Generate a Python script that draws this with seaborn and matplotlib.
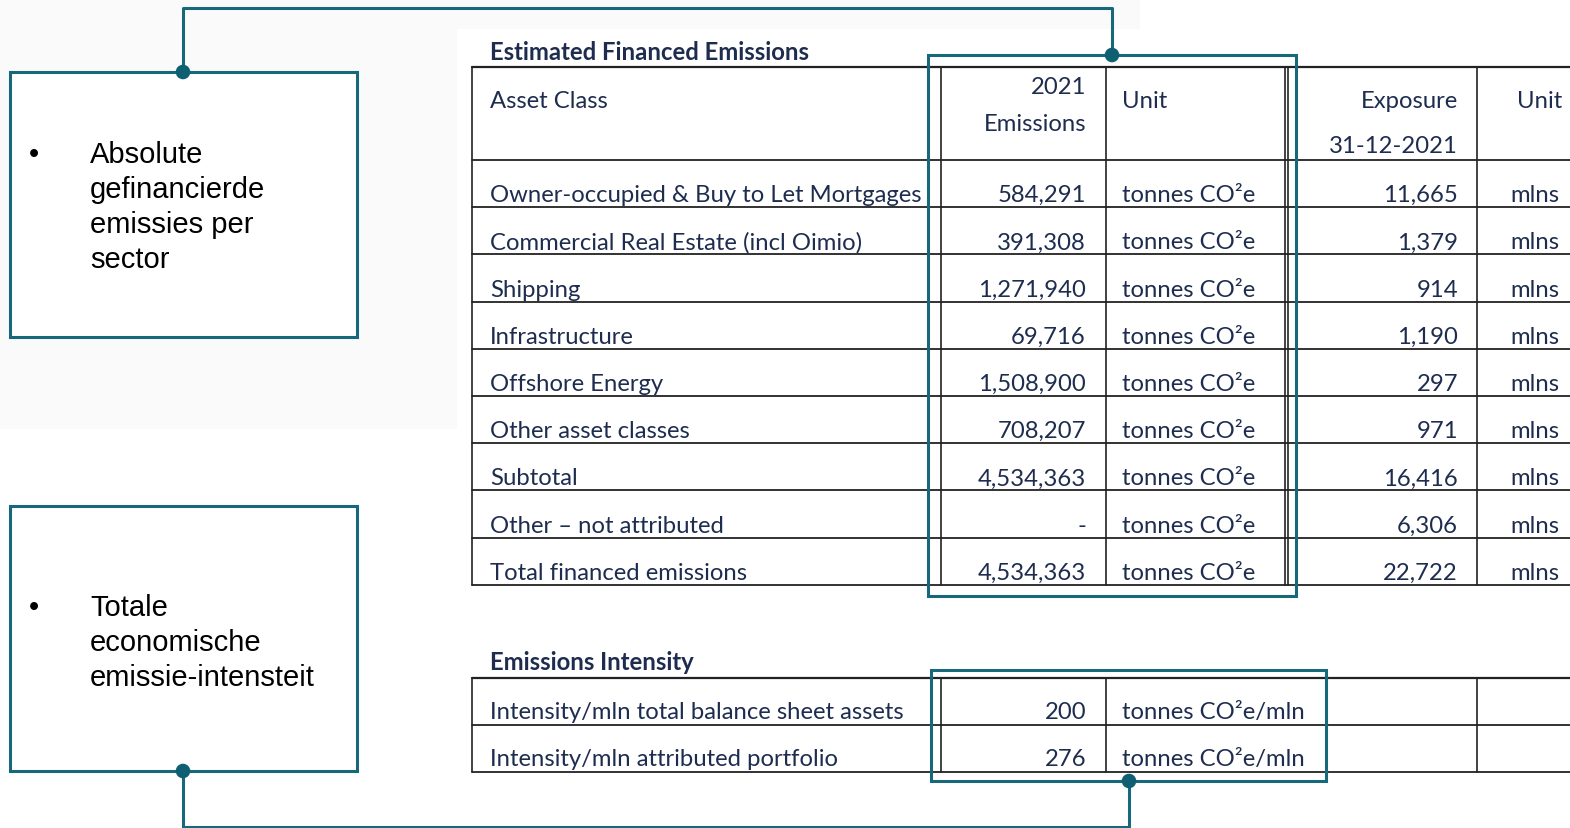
import numpy as np
import pandas as pd
import seaborn as sns
import matplotlib.pyplot as plt
from matplotlib.patches import Rectangle, Polygon

# --- Table content ---
title_main = "Estimated Financed Emissions"
title_intensity = "Emissions Intensity"

asset_classes = [
    "Owner-occupied & Buy to Let Mortgages",
    "Commercial Real Estate (incl Oimio)",
    "Shipping",
    "Infrastructure",
    "Offshore Energy",
    "Other asset classes",
    "Subtotal",
    "Other \u2013 not attributed",
    "Total financed emissions",
]
emissions_2021 = ["584,291", "391,308", "1,271,940", "69,716", "1,508,900",
                  "708,207", "4,534,363", "-", "4,534,363"]
emission_unit = "tonnes CO\u00b2e"
exposure_2021 = ["11,665", "1,379", "914", "1,190", "297", "971",
                 "16,416", "6,306", "22,722"]
exposure_unit = "mlns"

intensity_labels = ["Intensity/mln total balance sheet assets",
                    "Intensity/mln attributed portfolio"]
intensity_values = ["200", "276"]
intensity_unit = "tonnes CO\u00b2e/mln"

notes = [
    ["Absolute", "gefinancierde", "emissies per", "sector"],
    ["Totale", "economische", "emissie-intensteit"],
]

# --- Style ---
sns.set_theme(style="white")
plt.rcParams["font.family"] = ["Lato", "DejaVu Sans"]

teal = "#17687b"
ink = "#1e2d4f"
grid = "#222222"
tfs = 17.2

W, H = 1570, 829
fig = plt.figure(figsize=(W / 100, H / 100), dpi=100)
ax = fig.add_axes([0, 0, 1, 1])
fig.patch.set_facecolor("white")

# faint grey backdrop left of the table screenshot
ax.add_patch(Polygon([[0, 0], [1140, 0], [1140, 30], [457, 30], [457, 430], [0, 430]],
                     closed=True, facecolor="#fafafa", edgecolor="none", zorder=0))

# --- Main table grid ---
x_left, x_end = 472, 1575
col_lines = [941, 1106, 1285, 1288, 1477]
top1, head_bot, row_h = 68, 161, 47.2
row_bots = [head_bot + row_h * (i + 1) for i in range(len(asset_classes))]

for y in [top1, head_bot] + row_bots:
    ax.plot([x_left, x_end], [y, y], color=grid, lw=1.3 if y != top1 else 1.6, zorder=2)
for x in [x_left] + col_lines:
    ax.plot([x, x], [top1, row_bots[-1]], color=grid, lw=1.2, zorder=2)

ax.text(490, 60, title_main, fontsize=tfs, fontweight="bold", color=ink, va="baseline")
ax.text(490, 108, "Asset Class", fontsize=tfs, color=ink, va="baseline")
ax.text(1086, 94, "2021", fontsize=tfs, color=ink, va="baseline", ha="right")
ax.text(1086, 131, "Emissions", fontsize=tfs, color=ink, va="baseline", ha="right")
ax.text(1122, 108, "Unit", fontsize=tfs, color=ink, va="baseline")
ax.text(1458, 108, "Exposure", fontsize=tfs, color=ink, va="baseline", ha="right")
ax.text(1458, 153, "31-12-2021", fontsize=tfs, color=ink, va="baseline", ha="right")
ax.text(1517, 108, "Unit", fontsize=tfs, color=ink, va="baseline")

for i, label in enumerate(asset_classes):
    yb = row_bots[i] - 6
    ax.text(490, yb, label, fontsize=tfs, color=ink, va="baseline")
    ax.text(1086, yb, emissions_2021[i], fontsize=tfs, color=ink, va="baseline", ha="right")
    ax.text(1122, yb, emission_unit, fontsize=tfs, color=ink, va="baseline")
    ax.text(1458, yb, exposure_2021[i], fontsize=tfs, color=ink, va="baseline", ha="right")
    ax.text(1510, yb, exposure_unit, fontsize=tfs, color=ink, va="baseline")

# --- Intensity table ---
top2, row_h2 = 679, 47
row_bots2 = [top2 + row_h2 * (i + 1) for i in range(len(intensity_labels))]
for y in [top2] + row_bots2:
    ax.plot([x_left, x_end], [y, y], color=grid, lw=1.3 if y != top2 else 1.6, zorder=2)
for x in [x_left, 941, 1106, 1477]:
    ax.plot([x, x], [top2, row_bots2[-1]], color=grid, lw=1.2, zorder=2)

ax.text(490, 670, title_intensity, fontsize=tfs, fontweight="bold", color=ink, va="baseline")
for i, label in enumerate(intensity_labels):
    yb = row_bots2[i] - 7
    ax.text(490, yb, label, fontsize=tfs, color=ink, va="baseline")
    ax.text(1086, yb, intensity_values[i], fontsize=tfs, color=ink, va="baseline", ha="right")
    ax.text(1122, yb, intensity_unit, fontsize=tfs, color=ink, va="baseline")

# --- Highlight frames ---
ax.add_patch(Rectangle((928, 56), 368, 541, fill=False, edgecolor=teal, lw=2.2, zorder=3))
ax.add_patch(Rectangle((931, 671), 395, 111, fill=False, edgecolor=teal, lw=2.2, zorder=3))

# --- Note boxes ---
note_boxes = [(10, 73), (10, 507)]
note_base = [163, 616]
for (bx, by), lines, yb0 in zip(note_boxes, notes, note_base):
    ax.add_patch(Rectangle((bx, by), 347, 265, facecolor="white", edgecolor=teal, lw=2.2, zorder=3))
    ax.text(34, yb0, "\u2022", fontsize=21, family="Liberation Sans", color="black",
            va="baseline", ha="center", zorder=4)
    for j, line in enumerate(lines):
        ax.text(90, yb0 + 35 * j, line, fontsize=21, family="Liberation Sans",
                color="black", va="baseline", zorder=4)

# --- Connectors ---
ax.plot([1112, 1112, 183, 183], [56, 9, 9, 73], color=teal, lw=2.2, zorder=3)
ax.plot([183, 183, 1129, 1129], [772, 828, 828, 782], color=teal, lw=2.2, zorder=3)
dots = pd.DataFrame({"x": [183, 1112, 183, 1129], "y": [73, 56, 772, 782]})
sns.scatterplot(data=dots, x="x", y="y", s=110, color="#0f5f72", edgecolor="none",
                ax=ax, zorder=5, legend=False)

ax.set_xlim(0, W)
ax.set_ylim(H, 0)
ax.axis("off")

fig.savefig("out.png", dpi=100, facecolor=fig.get_facecolor())
